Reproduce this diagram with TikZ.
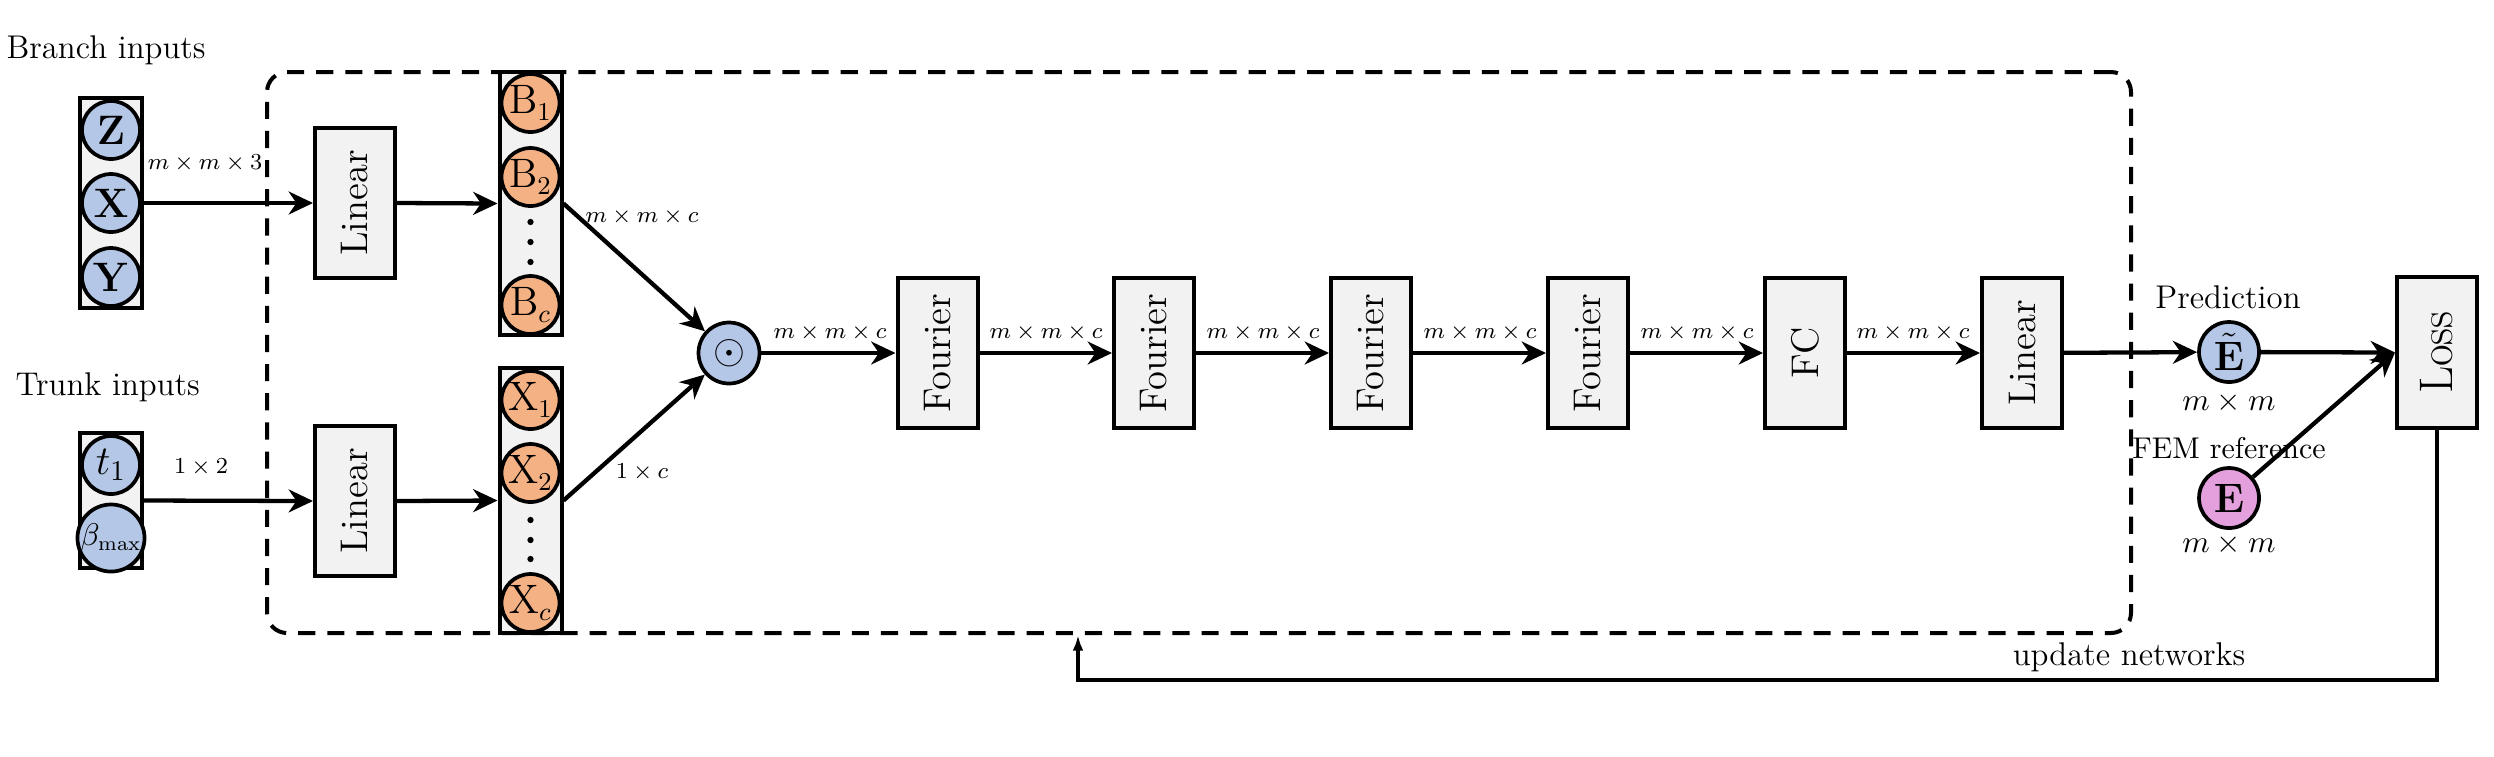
\documentclass[tikz,border=0pt]{standalone}
\usetikzlibrary{arrows.meta}
\definecolor{cblue}{RGB}{180,199,231}
\definecolor{corange}{RGB}{244,177,131}
\definecolor{cpink}{RGB}{228,160,220}
\definecolor{cgray}{RGB}{242,242,242}
\newcommand{\fs}[1]{\fontsize{#1}{#1}\selectfont}
\begin{document}
\begin{tikzpicture}[x=0.35pt,y=-0.35pt,
  col/.style={draw,line width=1.4pt,fill=cgray,inner sep=0pt,minimum width=21.7pt},
  neuron/.style={circle,draw,line width=1.3pt,inner sep=0pt,minimum size=20.3pt},
  blk/.style={draw,line width=1.4pt,fill=cgray,inner sep=0pt,minimum width=28pt,minimum height=52.5pt,font=\fs{13.5}},
  conn/.style={line width=1.5pt,-{Stealth[length=8.5pt,width=8pt,inset=2.7pt]}},
  fbconn/.style={line width=1.15pt,-{Latex[length=5.5pt,width=3.8pt]}},
  dimlab/.style={font=\fs{7.8},inner sep=0pt},
  txt/.style={font=\fs{11.5},inner sep=0pt},
  vdot/.style={circle,fill=black,inner sep=0pt,minimum size=2.2pt},
  frame/.style={draw,line width=1.4pt,dash pattern=on 6pt off 4.2pt,rounded corners=7pt,inner sep=0pt},
]
\useasboundingbox (0,0) rectangle (2494,756);

% dashed frame
\node[frame,minimum width=652.4pt,minimum height=196.35pt] (frame) at (1199,352.5) {};

% titles
\node[txt,anchor=west] (branch) at (6,50) {Branch inputs};
\node[txt,anchor=west] (trunk) at (15,387) {Trunk inputs};

% branch inputs
\node[col,minimum height=73.5pt] (bcol) at (111,203) {};
\node[neuron,fill=cblue] (z) at (111,130) {\fs{14.5}$\mathbf{Z}$};
\node[neuron,fill=cblue] (x) at (111,203) {\fs{14.5}$\mathbf{X}$};
\node[neuron,fill=cblue] (y) at (111,277) {\fs{14.5}$\mathbf{Y}$};

% trunk inputs
\node[col,minimum height=47.25pt] (tcol) at (111,500.5) {};
\node[neuron,fill=cblue] (t1) at (111,465) {\fs{14.5}$t_1$};
\node[neuron,fill=cblue] (bm) at (111,538) {\fs{10.5}$\beta_{\max}$};

% linear layers
\node[blk] (lin1) at (355,203) {\rotatebox{90}{Linear}};
\node[blk] (lin2) at (355,501) {\rotatebox{90}{Linear}};

% B column
\node[col,minimum height=92.05pt] (bc) at (530.5,203.5) {};
\node[neuron,fill=corange] (b1) at (530.5,103) {\fs{13.5}$\mathrm{B}_1$};
\node[neuron,fill=corange] (b2) at (530.5,177) {\fs{13.5}$\mathrm{B}_2$};
\node[vdot] (bd1) at (530.5,222) {};
\node[vdot] (bd2) at (530.5,242) {};
\node[vdot] (bd3) at (530.5,262) {};
\node[neuron,fill=corange] (bcn) at (530.5,305) {\fs{13.5}$\mathrm{B}_c$};

% X column
\node[col,minimum height=92.75pt] (xc) at (530.5,500.5) {};
\node[neuron,fill=corange] (x1) at (530.5,400) {\fs{13.5}$\mathrm{X}_1$};
\node[neuron,fill=corange] (x2) at (530.5,473) {\fs{13.5}$\mathrm{X}_2$};
\node[vdot] (xd1) at (530.5,520) {};
\node[vdot] (xd2) at (530.5,540) {};
\node[vdot] (xd3) at (530.5,559) {};
\node[neuron,fill=corange] (xcn) at (530.5,603) {\fs{13.5}$\mathrm{X}_c$};

% product
\node[neuron,fill=cblue,minimum size=21.35pt] (od) at (729,353) {\fs{15}$\odot$};

% main chain
\node[blk] (f1) at (937.5,353) {\rotatebox{90}{Fourier}};
\node[blk] (f2) at (1154,353) {\rotatebox{90}{Fourier}};
\node[blk] (f3) at (1371,353) {\rotatebox{90}{Fourier}};
\node[blk] (f4) at (1588,353) {\rotatebox{90}{Fourier}};
\node[blk] (fc) at (1805,353) {\rotatebox{90}{FC}};
\node[blk] (lin3) at (2022,353) {\rotatebox{90}{Linear}};

% outputs
\node[neuron,fill=cblue,minimum size=21pt] (et) at (2229,352) {\fs{14.5}$\tilde{\mathbf{E}}$};
\node[neuron,fill=cpink,minimum size=21pt] (e) at (2229,498) {\fs{14.5}$\mathbf{E}$};
\node[txt] (pred) at (2228,297) {Prediction};
\node[txt,font=\fs{10.5}] (fem) at (2229,448) {FEM reference};
\node[txt,font=\fs{10.5}] (etd) at (2229,403) {$m\times m$};
\node[txt,font=\fs{10.5}] (ed) at (2229,545) {$m\times m$};
\node[blk,font=\fs{16.5},minimum height=52.85pt] (loss) at (2437,352.5) {\rotatebox{90}{Loss}};

% connectors
\draw[conn] (bcol.east) -- (lin1.west);
\draw[conn] (lin1.east) -- (bc.west);
\draw[conn] (bc.east) -- (od);
\draw[conn] (tcol.east) -- (lin2.west);
\draw[conn] (lin2.east) -- (xc.west);
\draw[conn] (xc.east) -- (od);
\draw[conn] (od) -- (f1);
\draw[conn] (f1) -- (f2);
\draw[conn] (f2) -- (f3);
\draw[conn] (f3) -- (f4);
\draw[conn] (f4) -- (fc);
\draw[conn] (fc) -- (lin3);
\draw[conn] (lin3) -- (et);
\draw[conn] (et) -- (loss.west);
\draw[conn] (e) -- (loss.west);

% dimension labels
\node[dimlab] (d1) at (205,163) {$m\times m\times 3$};
\node[dimlab] (d2) at (201,467) {$1\times 2$};
\node[dimlab] (d3) at (642,217) {$m\times m\times c$};
\node[dimlab] (d4) at (642,472) {$1\times c$};
\node[dimlab] (d5) at (830,333) {$m\times m\times c$};
\node[dimlab] (d6) at (1046,333) {$m\times m\times c$};
\node[dimlab] (d7) at (1263,333) {$m\times m\times c$};
\node[dimlab] (d8) at (1480,333) {$m\times m\times c$};
\node[dimlab] (d9) at (1697,333) {$m\times m\times c$};
\node[dimlab] (d10) at (1913,333) {$m\times m\times c$};

% feedback
\coordinate (fbc) at (1078,680);
\draw[fbconn] (loss.south) |- (fbc) -- (fbc |- frame.south);
\node[txt] (upd) at (2129,657) {update networks};
\end{tikzpicture}
\end{document}
